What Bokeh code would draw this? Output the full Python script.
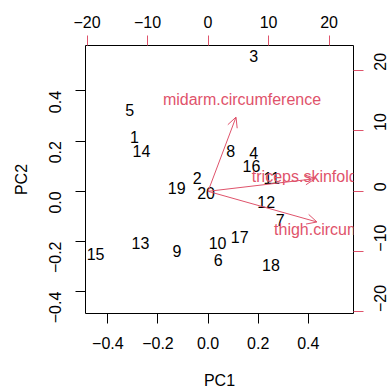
import math
from bokeh.plotting import figure
from bokeh.models import (Range1d, LinearAxis, FixedTicker, ColumnDataSource,
                          Arrow, OpenHead)
from bokeh.embed import file_html
from bokeh.resources import INLINE
from bokeh.core.properties import value

# ---- data -------------------------------------------------------------
obs_labels = [str(i) for i in range(1, 21)]
pc1 = [-0.294, -0.043, 0.182, 0.182, -0.313, 0.040, 0.288, 0.090, -0.124, 0.038,
       0.254, 0.232, -0.270, -0.266, -0.449, 0.173, 0.126, 0.251, -0.125, -0.008]
pc2 = [0.216, 0.053, 0.538, 0.154, 0.325, -0.275, -0.113, 0.160, -0.239, -0.206,
       0.054, -0.043, -0.206, 0.160, -0.248, 0.100, -0.182, -0.292, 0.013, -0.007]

var_names = ["triceps.skinfold", "thigh.circumference", "midarm.circumference"]
arrow_x = [17.71, 17.99, 4.62]
arrow_y = [2.10, -5.08, 12.30]
label_x = [15.97, 22.44, 5.61]
label_y = [2.53, -6.29, 15.18]

pc_ticks = [-0.4, -0.2, 0.0, 0.2, 0.4]
pc_tick_labels = ["\u22120.4", "\u22120.2", "0.0", "0.2", "0.4"]
load_ticks = [-20, -10, 0, 10, 20]
load_tick_labels = ["\u221220", "\u221210", "0", "10", "20"]

RED = "#DF536B"
FONT = "Liberation Sans"
FS = "16px"

# ---- figure -----------------------------------------------------------
p = figure(frame_width=268, frame_height=268, output_backend="svg",
           toolbar_location=None,
           x_range=Range1d(-0.4892, 0.5805), y_range=Range1d(-0.487, 0.581),
           min_border_left=85, min_border_right=37, min_border_top=45,
           min_border_bottom=79)
p.extra_x_ranges = {"load": Range1d(-20.25, 24.03)}
p.extra_y_ranges = {"load": Range1d(-20.25, 24.17)}

p.grid.visible = False
p.outline_line_color = "black"
p.outline_line_width = 1
p.background_fill_color = "white"
p.border_fill_color = "white"

bottom = p.below[0]
left = p.left[0]

top = LinearAxis(x_range_name="load")
right = LinearAxis(y_range_name="load")
p.add_layout(top, "above")
p.add_layout(right, "right")

bottom.ticker = FixedTicker(ticks=pc_ticks)
bottom.major_label_overrides = dict(zip(pc_ticks, pc_tick_labels))
left.ticker = FixedTicker(ticks=pc_ticks)
left.major_label_overrides = dict(zip(pc_ticks, pc_tick_labels))
top.ticker = FixedTicker(ticks=load_ticks)
top.major_label_overrides = dict(zip(load_ticks, load_tick_labels))
right.ticker = FixedTicker(ticks=load_ticks)
right.major_label_overrides = dict(zip(load_ticks, load_tick_labels))

for ax in (bottom, left, top, right):
    ax.axis_line_color = None
    ax.minor_tick_line_color = None
    ax.major_tick_in = 0
    ax.major_tick_out = 10
    ax.major_tick_line_width = 1
    ax.major_label_text_font = FONT
    ax.major_label_text_font_size = FS
    ax.major_label_text_color = "black"
    ax.axis_label_text_font = FONT
    ax.axis_label_text_font_size = FS
    ax.axis_label_text_font_style = "normal"
    ax.axis_label_text_color = "black"

bottom.major_tick_line_color = "black"
left.major_tick_line_color = "black"
top.major_tick_line_color = RED
right.major_tick_line_color = RED

bottom.major_label_standoff = 13
top.major_label_standoff = 8
left.major_label_standoff = 20
right.major_label_standoff = 17
left.major_label_orientation = math.pi / 2
right.major_label_orientation = math.pi / 2

bottom.axis_label = "PC1"
left.axis_label = "PC2"
bottom.axis_label_standoff = 20
left.axis_label_standoff = 11

# ---- observations ------------------------------------------------------
obs = ColumnDataSource(dict(x=pc1, y=pc2, t=obs_labels))
p.text(x="x", y="y", text="t", source=obs, text_font=value(FONT),
       text_font_size=FS, text_color="black", text_align="center",
       text_baseline="middle")

# ---- variable arrows ---------------------------------------------------
vsrc = ColumnDataSource(dict(x0=[0] * len(arrow_x), y0=[0] * len(arrow_y),
                             x1=arrow_x, y1=arrow_y))
p.add_layout(Arrow(end=OpenHead(size=10, line_color=RED, line_width=1),
                   x_start="x0", y_start="y0", x_end="x1", y_end="y1",
                   source=vsrc, line_color=RED, line_width=1,
                   x_range_name="load", y_range_name="load"))

lsrc = ColumnDataSource(dict(x=label_x, y=label_y, t=var_names))
p.text(x="x", y="y", text="t", source=lsrc, text_font=value(FONT),
       text_font_size=FS, text_color=RED, text_align="center",
       text_baseline="middle", x_range_name="load", y_range_name="load")

open("out.html", "w").write(file_html(p, INLINE))
